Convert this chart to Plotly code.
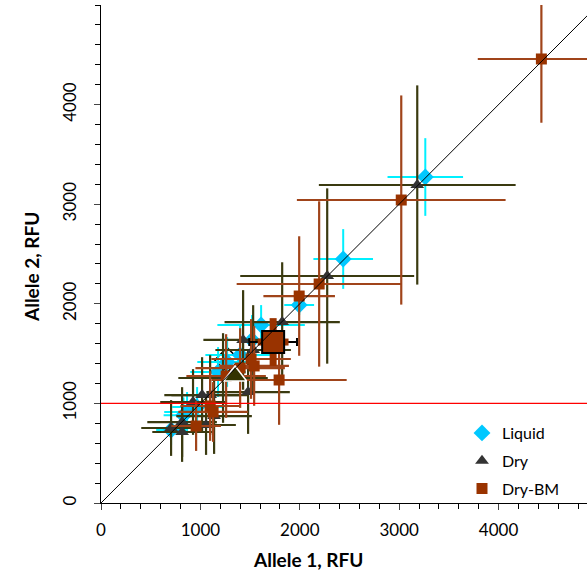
import plotly.graph_objects as go

# ---- data (RFU) ----
liq_x  = [3263, 2437, 1994, 1611, 1520, 1400, 1269, 1178, 967, 866, 830, 705]
liq_y  = [3273, 2450, 1988, 1787, 1637, 1486, 1416, 1315, 964, 914, 880, 733]
liq_ex = [380, 300, 150, 440, 300, 350, 300, 280, 250, 230, 200, 150]
liq_ey = [390, 300, 100, 200, 250, 300, 250, 250, 200, 200, 180, 150]

dry_x  = [3182, 2276, 1823, 1430, 1531, 1480, 1228, 1138, 1057, 1098, 1017, 926, 816, 816, 705]
dry_y  = [3193, 2279, 1817, 1637, 1536, 1114, 1255, 873, 783, 1084, 1084, 1014, 813, 713, 753]
dry_ex = [990, 875, 580, 400, 380, 420, 450, 380, 300, 390, 380, 330, 350, 300, 300]
dry_ey = [1000, 880, 600, 500, 450, 420, 450, 380, 300, 400, 380, 330, 350, 300, 280]

bm_x  = [4431, 3021, 2195, 1994, 1792, 1510, 1400, 1541, 1259, 1098, 1128, 957]
bm_y  = [4458, 3042, 2199, 2078, 1235, 1446, 1355, 1376, 1275, 974, 914, 773]
bm_ex = [640, 1050, 830, 360, 680, 400, 450, 350, 400, 300, 350, 250]
bm_ey = [640, 1050, 830, 600, 450, 400, 400, 400, 420, 350, 300, 250]

# group means (larger markers)
mean_liq = (1269, 1436)
mean_dry = (1349, 1275)
mean_bm = (1732, 1616)
mean_bm_ex = 155
mean_bm_ey = 240
mean_bm_ex_black = 240

x_tickvals = [0, 1000, 2000, 3000, 4000]
y_tickvals = [0, 1000, 2000, 3000, 4000]
threshold = 1000

LIQ = "#00C8FF"
LIQ_BAR = "#00F0FF"
DRY = "#333333"
DRY_BAR = "#3A3A10"
BM = "#993300"
BM_BAR = "#A0441A"

fig = go.Figure()

# liquid mean (outlined, underneath)
fig.add_trace(go.Scatter(
    x=[mean_liq[0]], y=[mean_liq[1]], mode="markers", showlegend=False,
    marker=dict(symbol="diamond", size=19, color="white", line=dict(width=1.5, color="black")),
))

fig.add_trace(go.Scatter(
    x=liq_x, y=liq_y, mode="markers", name="Liquid", legendgroup="a",
    marker=dict(symbol="diamond", size=13, color=LIQ, line=dict(width=0)),
    error_x=dict(type="data", array=liq_ex, color=LIQ_BAR, thickness=2, width=0),
    error_y=dict(type="data", array=liq_ey, color=LIQ_BAR, thickness=2, width=0),
))
fig.add_trace(go.Scatter(
    x=dry_x, y=dry_y, mode="markers", name="Dry", legendgroup="b",
    marker=dict(symbol="triangle-up", size=12, color=DRY, line=dict(width=0)),
    error_x=dict(type="data", array=dry_ex, color=DRY_BAR, thickness=2.2, width=0),
    error_y=dict(type="data", array=dry_ey, color=DRY_BAR, thickness=2.2, width=0),
))
fig.add_trace(go.Scatter(
    x=bm_x, y=bm_y, mode="markers", name="Dry-BM", legendgroup="c",
    marker=dict(symbol="square", size=11, color=BM, line=dict(width=0)),
    error_x=dict(type="data", array=bm_ex, color=BM_BAR, thickness=2.2, width=0),
    error_y=dict(type="data", array=bm_ey, color=BM_BAR, thickness=2.2, width=0),
))

# means
fig.add_trace(go.Scatter(
    x=[mean_dry[0]], y=[mean_dry[1]], mode="markers", showlegend=False,
    marker=dict(symbol="triangle-up", size=20, color="#333300", line=dict(width=1.5, color="white")),
))
fig.add_trace(go.Scatter(
    x=[mean_bm[0]], y=[mean_bm[1]], mode="markers", showlegend=False,
    marker=dict(symbol="square", size=6, color=BM),
    error_x=dict(type="data", array=[mean_bm_ex_black], color="black", thickness=2, width=4),
))
fig.add_trace(go.Scatter(
    x=[mean_bm[0]], y=[mean_bm[1]], mode="markers", showlegend=False,
    marker=dict(symbol="square", size=22, color=BM, line=dict(width=2, color="black")),
    error_x=dict(type="data", array=[mean_bm_ex], color=BM, thickness=7, width=0),
    error_y=dict(type="data", array=[mean_bm_ey], color=BM, thickness=7, width=0),
))

# identity line
fig.add_trace(go.Scatter(x=[0, 5000], y=[0, 5000], mode="lines", showlegend=False,
                         line=dict(color="black", width=1), hoverinfo="skip"))
# threshold line
fig.add_trace(go.Scatter(x=[0, 5000], y=[threshold, threshold], mode="lines", showlegend=False,
                         line=dict(color="#FF0000", width=1.3), hoverinfo="skip"))

W, H = 587, 572
L, R, T, B = 101, 0, 5, 69
pw, ph = W - L - R, H - T - B

def px_to_paper(px, py):
    return (px - L) / pw, (H - B - py) / ph

fnt = "Lato, 'Open Sans', sans-serif"

xt = px_to_paper(308, 559)
yt = px_to_paper(31, 267)

fig.update_layout(
    width=W, height=H,
    margin=dict(l=L, r=R, t=T, b=B),
    paper_bgcolor="white", plot_bgcolor="white",
    font=dict(family=fnt, color="black", size=17),
    xaxis=dict(range=[0, 4890], tickvals=x_tickvals, ticks="outside", ticklen=6, tickwidth=1.3,
               showline=True, linecolor="black", linewidth=1.3, showgrid=False, zeroline=False,
               ticklabelstandoff=5,
               minor=dict(dtick=200, ticks="outside", ticklen=5, tickwidth=1.2, tickcolor="black"),
               tickfont=dict(size=17)),
    yaxis=dict(range=[0, 5000], tickvals=y_tickvals, ticks="outside", ticklen=6, tickwidth=1.3,
               showline=True, linecolor="black", linewidth=1.3, showgrid=False, zeroline=False,
               tickangle=-90, ticklabelstandoff=11,
               minor=dict(dtick=200, ticks="outside", ticklen=5, tickwidth=1.2, tickcolor="black"),
               tickfont=dict(size=17)),
    legend=dict(x=px_to_paper(462, 0)[0], y=px_to_paper(0, 416)[1], xanchor="left", yanchor="top",
                bgcolor="rgba(0,0,0,0)", font=dict(size=16), tracegroupgap=4),
    annotations=[
        dict(text="<b>Allele 1, RFU</b>", x=xt[0], y=xt[1], xref="paper", yref="paper",
             showarrow=False, font=dict(size=19), xanchor="center", yanchor="middle"),
        dict(text="<b>Allele 2, RFU</b>", x=yt[0], y=yt[1], xref="paper", yref="paper",
             showarrow=False, font=dict(size=19), textangle=-90, xanchor="center", yanchor="middle"),
    ],
)

fig.write_html("out.html", config={"displayModeBar": False},
               post_script="document.body.style.margin='0';document.body.style.overflow='hidden';")
